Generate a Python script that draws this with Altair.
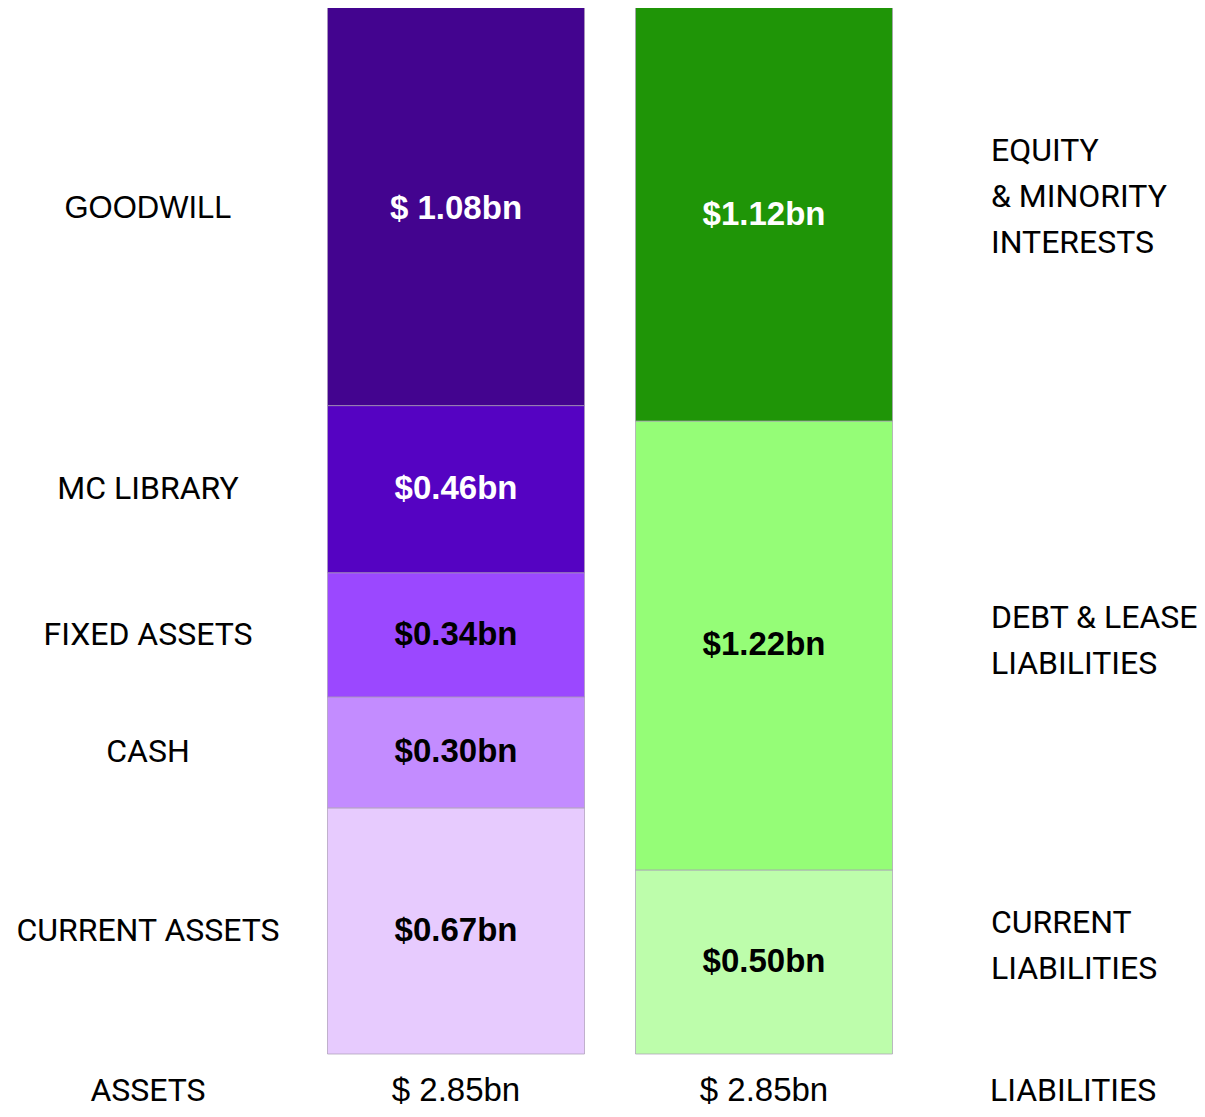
import altair as alt
import pandas as pd

# ---- data ----
asset_cats = ["CURRENT ASSETS", "CASH", "FIXED ASSETS", "MC LIBRARY", "GOODWILL"]
asset_vals = [0.670, 0.302, 0.338, 0.455, 1.085]
asset_labels = ["$0.67bn", "$0.30bn", "$0.34bn", "$0.46bn", "$ 1.08bn"]
asset_colors = ["#e7cbfe", "#c38cff", "#9b48ff", "#5503c2", "#43048f"]
asset_text_colors = ["black", "black", "black", "white", "white"]

liab_cats = ["CURRENT\nLIABILITIES", "DEBT & LEASE\nLIABILITIES", "EQUITY\n& MINORITY\nINTERESTS"]
liab_vals = [0.501, 1.222, 1.127]
liab_labels = ["$0.50bn", "$1.22bn", "$1.12bn"]
liab_colors = ["#bdfdab", "#95fd77", "#1f9507"]
liab_text_colors = ["black", "black", "white"]

totals = ["$ 2.85bn", "$ 2.85bn"]
bottom_names = ["ASSETS", "LIABILITIES"]

# ---- layout (pixels within plot area) / styles ----
W, H = 1189, 1101
PX_PER_BN = 1047 / 2.85
Y_HI = 1046 / PX_PER_BN
Y_LO = Y_HI - H / PX_PER_BN
BAR_HALF = 128.5
ASSET_X, LIAB_X = 448, 756
LEFT_LABEL_X, RIGHT_LABEL_X = 140, 983
asset_label_fonts = ["Roboto", "Roboto", "Roboto", "Roboto", "Liberation Sans"]
asset_label_sizes = [32, 32, 32, 32, 31]
asset_dy = [0, 0, 0, 0, 3]
liab_label_dy = [-39, -27, -63]
liab_value_dy = [0, 0, 1]
BOTTOM_Y = Y_HI - 1083 / PX_PER_BN

rows = []
def add(side, cats, vals, labels, colors, tcolors, cx, lx, dys, vdys, fonts, sizes):
    s = 0.0
    for i, (c, v, l, col, tc) in enumerate(zip(cats, vals, labels, colors, tcolors)):
        rows.append(dict(side=side, cat=c, start=s, end=s + v, mid=s + v / 2,
                         label=l, color=col, tcolor=tc, x0=cx - BAR_HALF, x1=cx + BAR_HALF,
                         cx=cx, lx=lx, dy=dys[i], vdy=vdys[i], font=fonts[i], size=sizes[i]))
        s += v

add("assets", asset_cats, asset_vals, asset_labels, asset_colors, asset_text_colors,
    ASSET_X, LEFT_LABEL_X, asset_dy, asset_dy, asset_label_fonts, asset_label_sizes)
add("liab", liab_cats, liab_vals, liab_labels, liab_colors, liab_text_colors,
    LIAB_X, RIGHT_LABEL_X, liab_label_dy, liab_value_dy, ["Roboto"] * 3, [32] * 3)
df = pd.DataFrame(rows)

bottom = pd.DataFrame({
    "text": [bottom_names[0], totals[0], totals[1], bottom_names[1]],
    "x": [LEFT_LABEL_X, ASSET_X, LIAB_X, RIGHT_LABEL_X - 1],
    "align": ["center", "center", "center", "left"],
    "font": ["Roboto", "Liberation Sans", "Liberation Sans", "Roboto"],
    "size": [32, 33, 33, 32],
    "y": [BOTTOM_Y] * 4,
})

xs = alt.Scale(domain=[0, W], range=[0, W])
ys = alt.Scale(domain=[Y_LO, Y_HI], range=[H, 0], nice=False, zero=False)
X = lambda f: alt.X(f, type="quantitative", scale=xs, axis=None)
Y = lambda f: alt.Y(f, type="quantitative", scale=ys, axis=None)

bars = alt.Chart(df).mark_rect(stroke="#a99bb5", strokeWidth=1, strokeOpacity=0.7).encode(
    x=X("x0"), x2="x1", y=Y("start"), y2="end",
    color=alt.Color("color:N", scale=None),
)

value_parts = []
label_parts = []
for _, r in df.iterrows():
    one = pd.DataFrame([r])
    value_parts.append(
        alt.Chart(one).mark_text(font="Liberation Sans", fontWeight="bold", fontSize=33,
                                 baseline="middle", align="center", color=r["tcolor"],
                                 dy=int(r["vdy"])).encode(
            x=X("cx"), y=Y("mid"), text="label:N")
    )
    label_parts.append(
        alt.Chart(one).mark_text(
            font=r["font"], fontSize=int(r["size"]), baseline="middle",
            align="center" if r["side"] == "assets" else "left", color="black",
            lineBreak="\n", lineHeight=46, dy=int(r["dy"])).encode(
            x=X("lx"), y=Y("mid"), text="cat:N")
    )

bottom_parts = []
for _, r in bottom.iterrows():
    bottom_parts.append(
        alt.Chart(pd.DataFrame([r])).mark_text(
            font=r["font"], fontSize=int(r["size"]), baseline="middle", align=r["align"],
            color="black").encode(
            x=X("x"), y=Y("y"), text="text:N")
    )

chart = alt.layer(bars, *value_parts, *label_parts, *bottom_parts).properties(
    width=W, height=H, autosize=alt.AutoSizeParams(type="none"), padding=0
).configure_view(stroke=None)

chart.save("out.html", embed_options={"renderer": "svg", "actions": False})
